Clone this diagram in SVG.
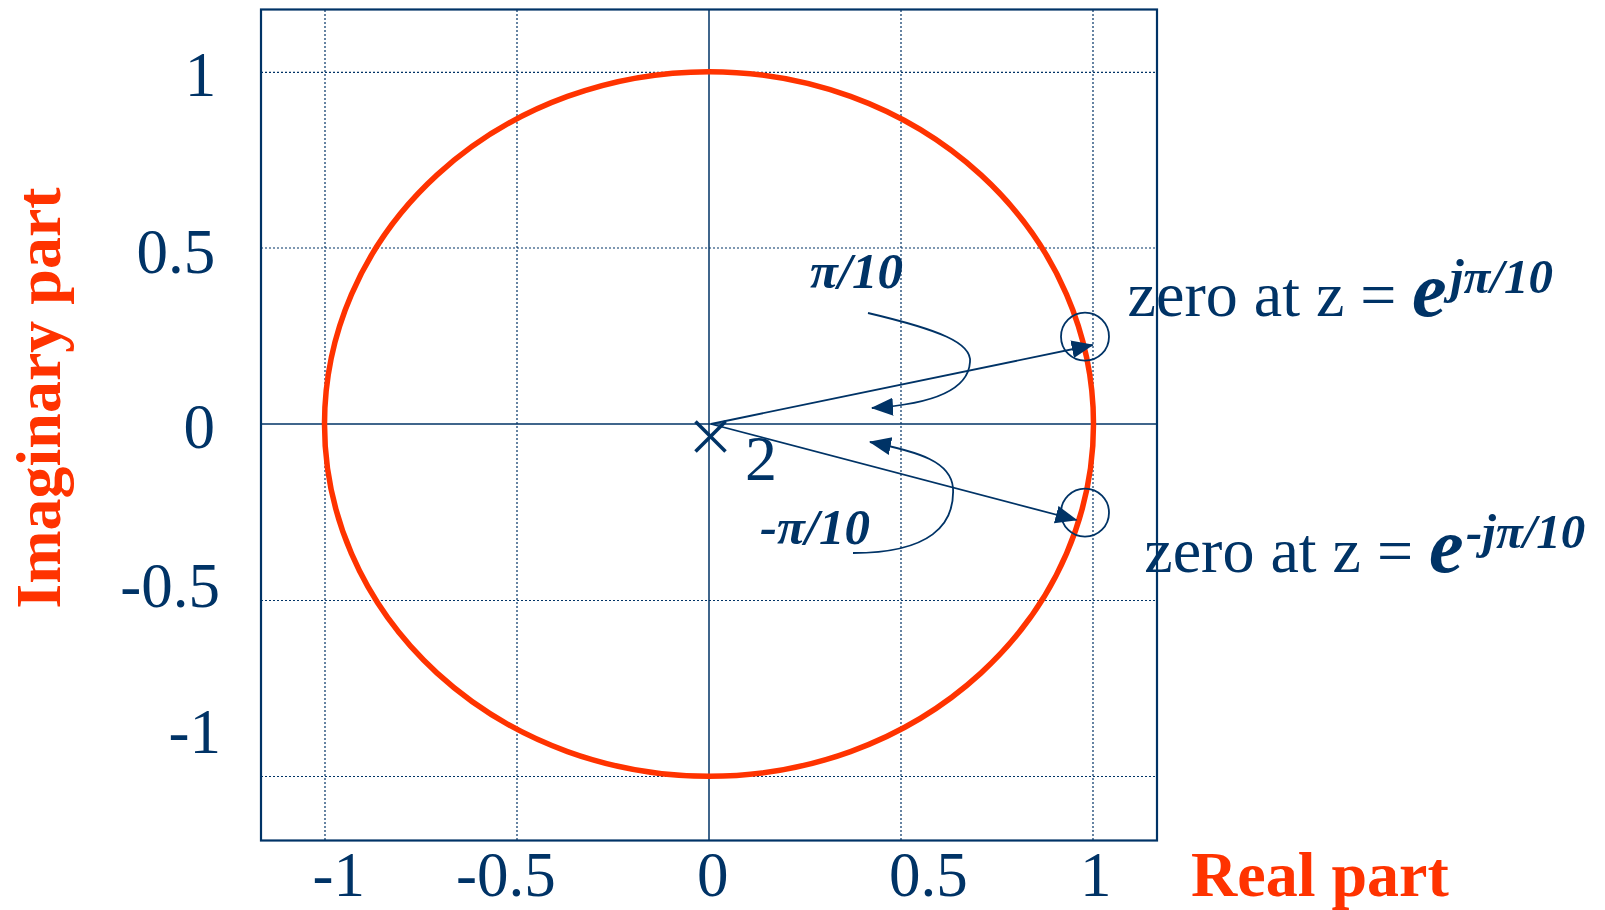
<svg xmlns="http://www.w3.org/2000/svg" width="1605" height="910" viewBox="0 0 1605 910">
  <style>
    .grid { stroke: #003366; stroke-width: 1.2; stroke-dasharray: 2 2; fill: none; }
    .axis { stroke: #003366; stroke-width: 1.5; fill: none; }
    .frame { stroke: #003366; stroke-width: 2.2; fill: none; }
    .conn { stroke: #003366; stroke-width: 1.8; fill: none; }
    .tick { font-family: "Liberation Serif", "Times New Roman", serif; font-size: 63px; fill: #003366; }
    .title { font-family: "Liberation Serif", "Times New Roman", serif; font-size: 64px; font-weight: bold; fill: #FF3300; }
    .lbl { font-family: "Liberation Serif", "Times New Roman", serif; font-size: 64px; fill: #003366; }
    .bi { font-family: "Liberation Serif", "Times New Roman", serif; font-weight: bold; font-style: italic; fill: #003366; }
  </style>
  <defs>
    <marker id="ah" markerUnits="userSpaceOnUse" markerWidth="24" markerHeight="20" refX="21" refY="9" orient="auto">
      <path d="M0,0 L22,9 L0,18 Z" fill="#003366"/>
    </marker>
  </defs>
  <rect width="1605" height="910" fill="#ffffff"/>

  <g id="plot-frame">
    <line class="grid" x1="325" y1="10" x2="325" y2="841"/>
    <line class="grid" x1="517" y1="10" x2="517" y2="841"/>
    <line class="grid" x1="901" y1="10" x2="901" y2="841"/>
    <line class="grid" x1="1093" y1="10" x2="1093" y2="841"/>
    <line class="grid" x1="261" y1="72.3" x2="1157" y2="72.3"/>
    <line class="grid" x1="261" y1="248" x2="1157" y2="248"/>
    <line class="grid" x1="261" y1="600.5" x2="1157" y2="600.5"/>
    <line class="grid" x1="261" y1="776.5" x2="1157" y2="776.5"/>
    <line class="axis" x1="709" y1="10" x2="709" y2="841"/>
    <line class="axis" x1="261" y1="424" x2="1157" y2="424"/>
    <rect class="frame" x="261" y="9.5" width="896" height="831"/>
  </g>

  <g id="unit-circle">
    <ellipse cx="709" cy="424" rx="384.5" ry="352.3" fill="none" stroke="#FF3300" stroke-width="5.5"/>
  </g>

  <g id="y-ticks">
    <text class="tick" x="184.7" y="96">1</text>
    <text class="tick" x="136.5" y="272.7">0.5</text>
    <text class="tick" x="183.5" y="447.7">0</text>
    <text class="tick" x="120.3" y="607">-0.5</text>
    <text class="tick" x="168.6" y="752.7">-1</text>
  </g>
  <g id="x-ticks">
    <text class="tick" x="312.6" y="896">-1</text>
    <text class="tick" x="456" y="896">-0.5</text>
    <text class="tick" x="697" y="896">0</text>
    <text class="tick" x="889" y="896">0.5</text>
    <text class="tick" x="1080" y="896">1</text>
  </g>

  <g id="axis-titles">
    <text class="title" transform="translate(60,398) rotate(-90)" text-anchor="middle">Imaginary part</text>
    <text class="title" x="1191" y="896">Real part</text>
  </g>

  <g id="pole">
    <line x1="695.5" y1="421.5" x2="725.5" y2="451.5" stroke="#003366" stroke-width="3.5"/>
    <line x1="695.5" y1="451.5" x2="725.5" y2="421.5" stroke="#003366" stroke-width="3.5"/>
    <text class="lbl" x="745" y="480" font-size="60">2</text>
  </g>

  <g id="zero-upper">
    <circle cx="1085" cy="336.7" r="24" fill="none" stroke="#003366" stroke-width="1.8"/>
    <text class="lbl" x="1127.6" y="316">zero at z = <tspan class="bi" x="1412" font-size="78">e</tspan><tspan class="bi" x="1450" y="293" font-size="49">jπ/10</tspan></text>
  </g>
  <g id="zero-lower">
    <circle cx="1085" cy="512.7" r="24" fill="none" stroke="#003366" stroke-width="1.8"/>
    <text class="lbl" x="1144.3" y="571.7">zero at z = <tspan class="bi" x="1429" font-size="78">e</tspan><tspan class="bi" x="1466" y="548" font-size="49">-jπ/10</tspan></text>
  </g>

  <g id="angle-labels">
    <text class="bi" x="810" y="288.3" font-size="51">π/10</text>
    <text class="bi" x="760" y="544.3" font-size="51">-π/10</text>
  </g>

  <g id="connectors">
    <line class="conn" x1="711" y1="424" x2="1092.7" y2="345" marker-end="url(#ah)"/>
    <line class="conn" x1="711" y1="424" x2="1076.5" y2="520" marker-end="url(#ah)"/>
    <path class="conn" d="M868,313 C940,330 972,343 970,362 C968,395 920,405 872,408" marker-end="url(#ah)"/>
    <path class="conn" d="M853,553 C930,553 955,525 953,488 C951,462 920,452 870,442" marker-end="url(#ah)"/>
  </g>
</svg>
